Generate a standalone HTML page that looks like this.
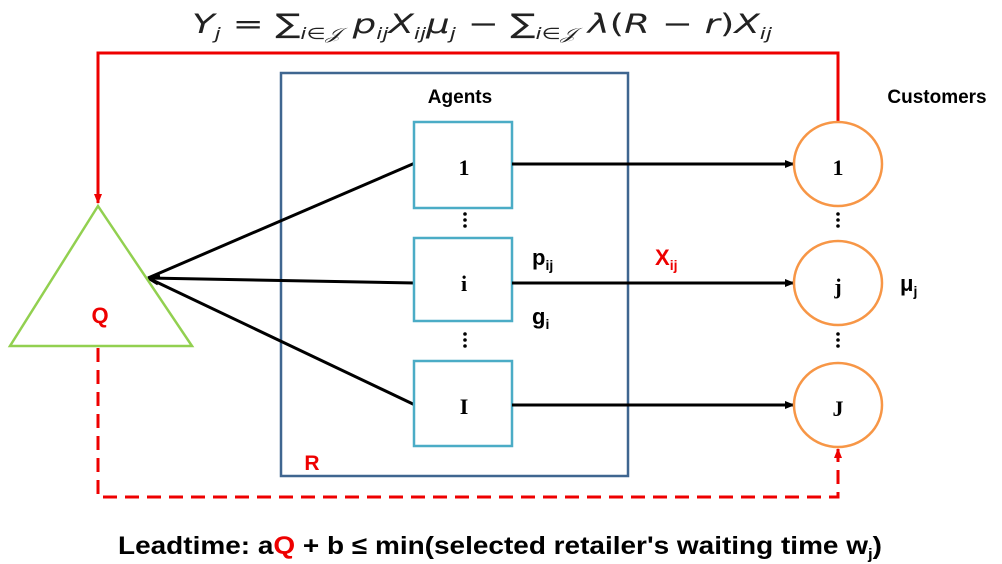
<!DOCTYPE html>
<html><head><meta charset="utf-8"><style>
body{margin:0;background:#fff;width:1002px;height:564px;overflow:hidden}
svg{display:block}
.b{font-family:"Liberation Sans",sans-serif;font-weight:bold}
.s{font-family:"Liberation Serif",serif;font-weight:bold}
</style></head><body>
<svg width="1002" height="564" viewBox="0 0 1002 564">
<defs>
<marker id="ak" markerWidth="10" markerHeight="10" refX="9" refY="5" orient="auto" markerUnits="userSpaceOnUse"><path d="M0,1 L10,5 L0,9 z" fill="#000"/></marker>
<marker id="ar" markerWidth="10" markerHeight="10" refX="9" refY="5" orient="auto" markerUnits="userSpaceOnUse"><path d="M0,1 L10,5 L0,9 z" fill="#e00"/></marker>
</defs>
<text x="482" y="33" text-anchor="middle" font-family="DejaVu Sans" font-size="27" fill="#222" textLength="580" lengthAdjust="spacingAndGlyphs"><tspan font-style="italic">Y</tspan><tspan font-size="16" dy="6" font-style="italic">j</tspan><tspan dy="-6"> = ∑</tspan><tspan font-size="16" dy="6" font-style="italic">i∈𝒥</tspan><tspan dy="-6" font-style="italic"> p</tspan><tspan font-size="16" dy="6" font-style="italic">ij</tspan><tspan dy="-6" font-style="italic">X</tspan><tspan font-size="16" dy="6" font-style="italic">ij</tspan><tspan dy="-6" font-style="italic">μ</tspan><tspan font-size="16" dy="6" font-style="italic">j</tspan><tspan dy="-6"> − ∑</tspan><tspan font-size="16" dy="6" font-style="italic">i∈𝒥</tspan><tspan dy="-6" font-style="italic"> λ</tspan><tspan>(</tspan><tspan font-style="italic">R</tspan><tspan> − </tspan><tspan font-style="italic">r</tspan><tspan>)</tspan><tspan font-style="italic">X</tspan><tspan font-size="16" dy="6" font-style="italic">ij</tspan></text>
<polyline points="838,123 838,53 98,53 98,203" fill="none" stroke="#e00" stroke-width="3" marker-end="url(#ar)"/>
<rect x="281" y="73" width="347" height="403" fill="none" stroke="#3f6690" stroke-width="2.5"/>
<text x="460" y="103" class="b" font-size="19" text-anchor="middle">Agents</text>
<text x="937" y="103" class="b" font-size="19" text-anchor="middle">Customers</text>
<text x="312" y="470" class="b" font-size="21" fill="#e00" text-anchor="middle">R</text>
<line x1="148" y1="278" x2="415" y2="163" stroke="#000" stroke-width="3"/>
<line x1="148" y1="278" x2="415" y2="283" stroke="#000" stroke-width="3"/>
<line x1="148" y1="278" x2="415" y2="405" stroke="#000" stroke-width="3"/>
<path d="M148,278 l12,-2 M148,278 l10,6" stroke="#000" stroke-width="3"/>
<g fill="#fff" stroke="#4bacc6" stroke-width="2.5">
<rect x="414" y="122" width="98" height="86"/>
<rect x="414" y="238" width="98" height="83"/>
<rect x="414" y="361" width="98" height="85"/>
</g>
<text x="464" y="175" class="s" font-size="22" text-anchor="middle">1</text>
<text x="464" y="291" class="s" font-size="22" text-anchor="middle">i</text>
<text x="464" y="414" class="s" font-size="22" text-anchor="middle">I</text>
<g fill="#000">
<circle cx="465" cy="214" r="1.8"/><circle cx="465" cy="220" r="1.8"/><circle cx="465" cy="226" r="1.8"/>
<circle cx="465" cy="334" r="1.8"/><circle cx="465" cy="340" r="1.8"/><circle cx="465" cy="346" r="1.8"/>
<circle cx="838" cy="214" r="1.8"/><circle cx="838" cy="220" r="1.8"/><circle cx="838" cy="226" r="1.8"/>
<circle cx="838" cy="334" r="1.8"/><circle cx="838" cy="340" r="1.8"/><circle cx="838" cy="346" r="1.8"/>
</g>
<line x1="512" y1="164" x2="794" y2="164" stroke="#000" stroke-width="3" marker-end="url(#ak)"/>
<line x1="512" y1="283" x2="794" y2="283" stroke="#000" stroke-width="3" marker-end="url(#ak)"/>
<line x1="512" y1="405" x2="794" y2="405" stroke="#000" stroke-width="3" marker-end="url(#ak)"/>
<g fill="#fff" stroke="#f79646" stroke-width="2.5">
<ellipse cx="838" cy="164" rx="44" ry="42"/>
<ellipse cx="838" cy="283" rx="44" ry="42"/>
<ellipse cx="838" cy="405" rx="44" ry="42"/>
</g>
<text x="838" y="175" class="s" font-size="22" text-anchor="middle">1</text>
<text x="838" y="294" class="s" font-size="22" text-anchor="middle">j</text>
<text x="838" y="416" class="s" font-size="22" text-anchor="middle">J</text>
<text x="532" y="265" class="b" font-size="22">p<tspan font-size="14" dy="5">ij</tspan></text>
<text x="532" y="324" class="b" font-size="22">g<tspan font-size="14" dy="5">i</tspan></text>
<text x="655" y="265" class="b" font-size="22" fill="#e00">X<tspan font-size="14" dy="5">ij</tspan></text>
<text x="900" y="291" class="b" font-size="22">μ<tspan font-size="14" dy="5">j</tspan></text>
<polygon points="98,206 10,346 192,346" fill="#fff" stroke="#92d050" stroke-width="2.5"/>
<text x="100" y="323" class="b" font-size="22" fill="#e00" text-anchor="middle">Q</text>
<polyline points="98,348 98,497 838,497 838,449" fill="none" stroke="#e00" stroke-width="3" stroke-dasharray="14,8" marker-end="url(#ar)"/>
<text x="500" y="554" class="b" font-size="25" text-anchor="middle" textLength="764" lengthAdjust="spacingAndGlyphs">Leadtime: a<tspan fill="#e00">Q</tspan> + b ≤ min(selected retailer's waiting time w<tspan font-size="15" dy="5">j</tspan><tspan dy="-5">)</tspan></text>
</svg>
</body></html>
